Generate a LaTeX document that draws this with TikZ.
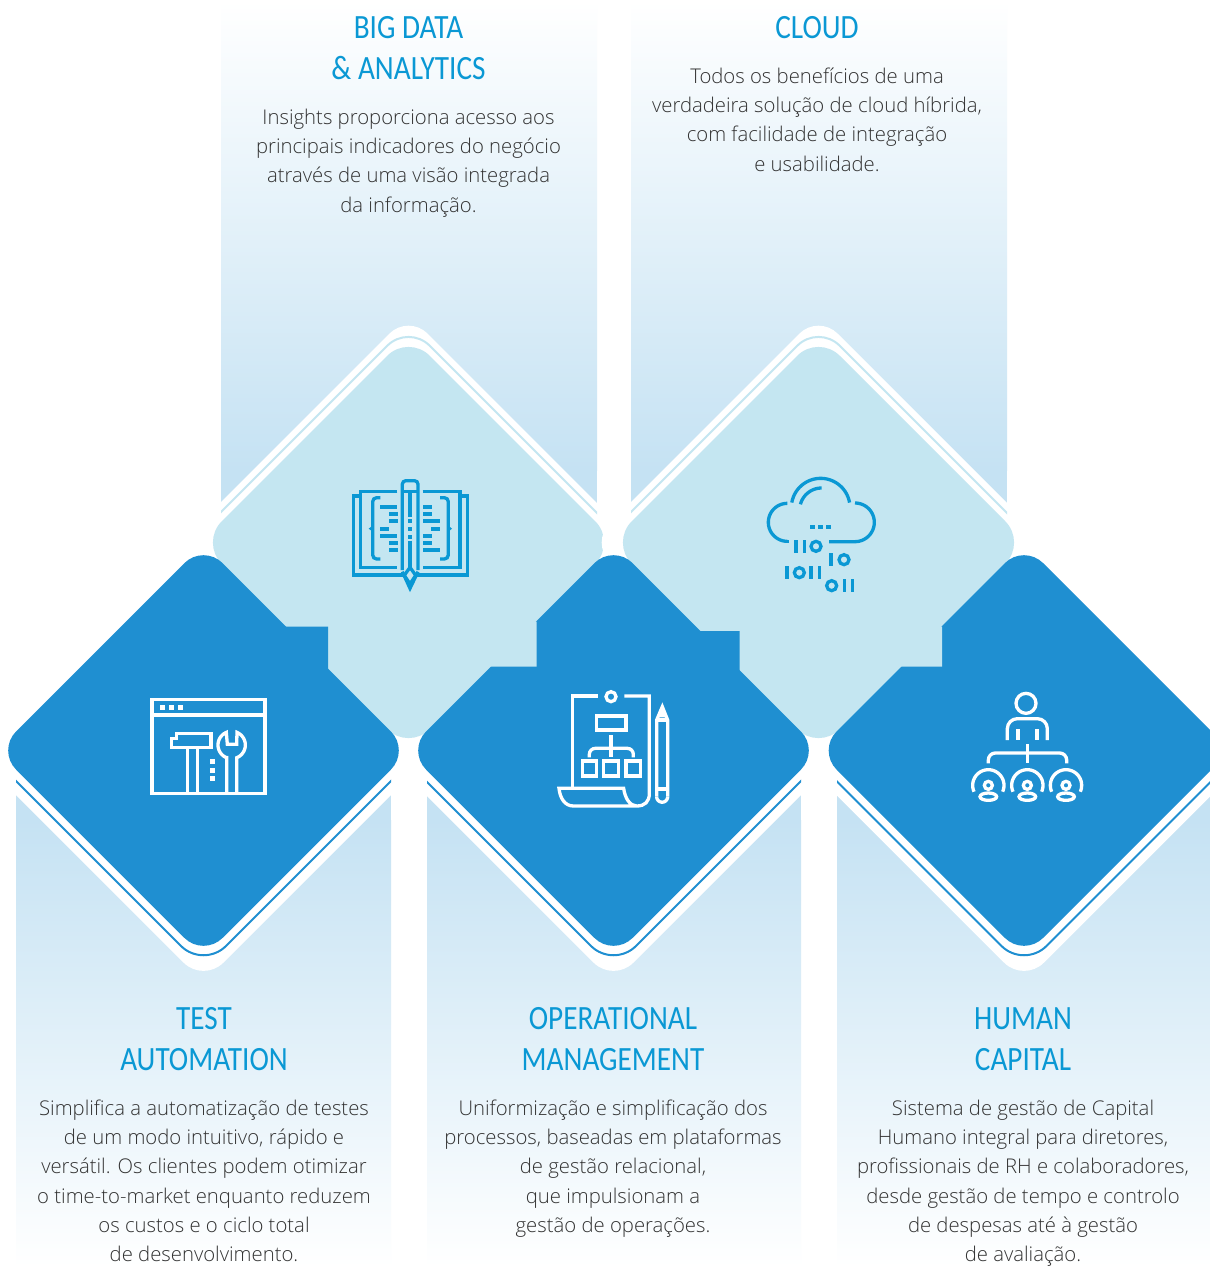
\documentclass[tikz,border=0pt]{standalone}
\usepackage{fontspec}
\setmainfont{Open Sans Light}
\newfontfamily\titlef[FakeStretch=0.86]{Carlito}
\definecolor{darkb}{HTML}{1F8FD1}
\definecolor{lightb}{HTML}{C4E6F1}
\definecolor{panelb}{HTML}{C5E2F3}
\definecolor{iconb}{HTML}{0A98D4}
\definecolor{bodyc}{HTML}{333333}
\newcommand\rdiam[4]{[rounded corners=#4pt] (#1,#2-#3)--(#1+#3,#2)--(#1,#2+#3)--(#1-#3,#2)--cycle}
\newcommand\arcp[5]{plot[domain=#4:#5,samples=30,variable=\t] ({#1+#2*cos(\t)},{#3+#2*sin(\t)})}
\tikzset{
 title/.style={inner sep=0pt,anchor=north,align=center,text=iconb,font=\titlef\fontsize{34}{41.5}\selectfont},
 bodyt/.style={inner sep=0pt,anchor=north,align=center,text=bodyc,font=\fontsize{20.3}{29.35}\selectfont},
 ico/.style={line width=3.3pt,line cap=butt,line join=miter},
 zoomed/.style={x=0.33333pt,y=-0.33333pt}
}
\begin{document}
\begin{tikzpicture}[x=1pt,y=-1pt]
\clip (0,0) rectangle (1210,1267);
\fill[white] (0,0) rectangle (1210,1267);
% top panels
\foreach \xa/\xb/\cx in {221/597/408.5,631/1007/818.5}{
 \shade[top color=white,bottom color=panelb] (\xa,0) rectangle (\xb,470);
 \fill[panelb] (\xa,469.5) rectangle (\xb,520);
 \fill[white] \rdiam{\cx}{542.5}{228}{27};
 \begin{scope}
  \clip (\xa,0) rectangle (\xb,530);
  \draw[lightb,line width=2pt] \rdiam{\cx}{542.5}{218}{30};
 \end{scope}
 \fill[lightb] \rdiam{\cx}{542.5}{208}{30};
}
% bottom panels, their halo clipped to the panel
\foreach \xa/\xb/\cx in {16/391/203.5,427/801/613.5,837/1212/1024}{
 \fill[panelb] (\xa,775) rectangle (\xb,820.5);
 \shade[top color=panelb,bottom color=white] (\xa,820) rectangle (\xb,1267);
 \begin{scope}
  \clip (\xa,770) rectangle (\xb,1000);
  \fill[white] \rdiam{\cx}{750.5}{232}{28};
  \draw[darkb,line width=2pt] \rdiam{\cx}{750.5}{218}{32};
 \end{scope}
}
\foreach \cx in {203.5,613.5,1024}{
 \fill[darkb] \rdiam{\cx}{750.5}{206.5}{27};
}
% steps on the dark squares
\fill[darkb] (285.3,626.5)--(328,626.5)--(328,669)--(300,669)--(275,640)--cycle;
\fill[darkb] (700,631)--(739.7,631)--(739.7,670.7)--(700,670)--cycle;
\fill[lightb] (491,666.7)--(536.7,666.7)--(536.7,621.7)--(530,620)--(487,663)--cycle;
\fill[lightb] (901.7,666.7)--(942,666.7)--(942,626.7)--(935,625)--(897,662)--cycle;
% book icon
\begin{scope}[shift={(340,470)}]
\begin{scope}[zoomed,ico,draw=iconb,fill=iconb]
 \draw (190,315)--(40,315)--(40,78)--(60,78);
 \draw (232,315)--(382,315)--(382,78)--(360,78);
 \draw (172,65)--(62,65)--(62,293)--(172,293);
 \draw (248,65)--(360,65)--(360,293)--(248,293);
 \draw[rounded corners=3.5pt] (187,300)--(187,32)--(234,32)--(234,300);
 \draw (187,65)--(234,65);
 \draw (187,305)--(210,355)--(234,305);
 \draw (210,292)--(227,316)--(210,342)--(193,316)--cycle;
 \draw (210,70)--(210,140);
 \draw (210,212)--(210,290);
 \foreach \yy in {152,177,200}{\fill (204,\yy-6) rectangle (216,\yy+6);}
 \foreach \a/\b/\yy in {120/171/111,147/174/131,147/174/152,120/147/177,120/171/198,147/174/218,147/174/240,
                        249/276/111,249/276/131,249/300/152,273/300/177,249/276/198,249/276/218,249/300/240}{
  \fill (\a,\yy-6) rectangle (\b,\yy+6);}
 \draw[rounded corners=4pt] (121,83)--(98,83)--(98,267)--(121,267);
 \draw[rounded corners=4pt] (300,83)--(325,83)--(325,267)--(300,267);
 \fill (86,176)--(98,167)--(98,185)--cycle;
 \fill (336,176)--(325,167)--(325,185)--cycle;
\end{scope}
\end{scope}
% cloud icon
\begin{scope}[shift={(750,465)}]
\begin{scope}[zoomed,ico,draw=iconb,fill=iconb]
 \draw \arcp{112}{57}{172}{90}{270};
 \draw \arcp{212}{88}{128}{190}{350};
 \draw \arcp{315}{58}{172}{270}{450} -- (237,230);
 \draw (112,229)--(116,229);
 \draw \arcp{215}{66}{135}{195}{270};
 \foreach \xx in {187,211,235}{\fill (\xx-7,180) rectangle (\xx+7,191);}
 \foreach \xx/\ya in {137/225,163/225,243/265,110/303,183/303,208/303,283/342,307/342}{
  \fill (\xx-5.5,\ya) rectangle (\xx+5.5,\ya+38);}
 \foreach \xx/\yy in {198/244,282/284,148/323,245/362}{\draw (\xx,\yy) circle (15);}
\end{scope}
\end{scope}
% tools icon
\begin{scope}[shift={(140,685)}]
\begin{scope}[zoomed,ico,draw=white,fill=white]
 \draw (36,44) rectangle (375,325);
 \draw (36,90)--(375,90);
 \foreach \xx in {67,94,121}{\fill (\xx-7,60) rectangle (\xx+7,74);}
 \draw (110,145)--(213,145)--(213,187)--(95,187)--(95,160)--(110,160)--cycle;
 \draw (143,187)--(143,322);
 \draw (172,187)--(172,322);
 \foreach \yy in {230,257,280}{\fill (210,\yy-7) rectangle (225,\yy+7);}
 \draw (260,322)--(260,218)
   -- plot[domain=112:247,samples=30,variable=\t] ({275+41*cos(\t)},{180+41*sin(\t)})
   --(262,178)--(290,178)
   -- plot[domain=293:428,samples=30,variable=\t] ({275+41*cos(\t)},{180+41*sin(\t)})
   --(290,322);
\end{scope}
\end{scope}
% document icon
\begin{scope}[shift={(545,680)}]
\begin{scope}[zoomed,ico,draw=white]
 \draw (158,48)--(82,48)--(82,322);
 \draw (238,48)--(313,48)--(313,340) .. controls (313,365) and (300,378) .. (275,378) .. controls (255,378) and (240,355) .. (236,325) -- (42,325) .. controls (45,355) and (60,378) .. (85,378) -- (275,378);
 \draw (198,50) circle (15);
 \draw (155,108) rectangle (243,150);
 \draw (198,165)--(198,232);
 \draw[rounded corners=6pt] (133,232)--(133,205)--(265,205)--(265,232);
 \draw (112,243) rectangle (155,288);
 \draw (176,243) rectangle (220,288);
 \draw (243,243) rectangle (287,288);
 \draw[line join=miter] (335,350)--(335,120)--(352,80)--(368,120)--(368,350);
 \fill[white] (352,80)--(342,112)--(362,112)--cycle;
 \draw (335,120)--(368,120);
 \draw (335,327)--(368,327);
 \draw \arcp{351.5}{16.5}{350}{0}{180};
\end{scope}
\end{scope}
% people icon
\begin{scope}[shift={(960,680)}]
\begin{scope}[zoomed,ico,draw=white,fill=white]
 \draw (198,70) circle (30);
 \draw[rounded corners=10pt] (142,180)--(142,116)--(262,116)--(262,180);
 \foreach \xx in {174,231}{\fill (\xx-5.5,148) rectangle (\xx+5.5,180);}
 \fill (197,192) rectangle (207,250);
 \draw[rounded corners=7pt] (85,250)--(85,219)--(320,219)--(320,250);
 \foreach \cx in {85,202,318}{
  \draw \arcp{\cx}{47}{316}{156}{384};
  \draw (\cx,316) circle (12);
  \draw (\cx,350) ellipse (25 and 11);
 }
\end{scope}
\end{scope}
% text
\node[title] (t1) at (408.5,16) {BIG DATA\\\& ANALYTICS};
\node[bodyt] (b1) at (408.5,108.5) {Insights proporciona acesso aos\\principais indicadores do negócio\\através de uma visão integrada\\da informação.};
\node[title] (t2) at (817,16) {CLOUD};
\node[bodyt] (b2) at (817,67.5) {Todos os benefícios de uma\\verdadeira solução de cloud híbrida,\\com facilidade de integração\\e usabilidade.};
\node[title] (t3) at (204,1007) {TEST\\AUTOMATION};
\node[bodyt] (b3) at (204,1099.5) {Simplifica a automatização de testes\\de um modo intuitivo, rápido e\\versátil. Os clientes podem otimizar\\o time-to-market enquanto reduzem\\os custos e o ciclo total\\de desenvolvimento.};
\node[title] (t4) at (613,1007) {OPERATIONAL\\MANAGEMENT};
\node[bodyt] (b4) at (613,1099.5) {Uniformização e simplificação dos\\processos, baseadas em plataformas\\de gestão relacional,\\que impulsionam a\\gestão de operações.};
\node[title] (t5) at (1023,1007) {HUMAN\\CAPITAL};
\node[bodyt] (b5) at (1023,1099.5) {Sistema de gestão de Capital\\Humano integral para diretores,\\profissionais de RH e colaboradores,\\desde gestão de tempo e controlo\\de despesas até à gestão\\de avaliação.};
\end{tikzpicture}
\end{document}
